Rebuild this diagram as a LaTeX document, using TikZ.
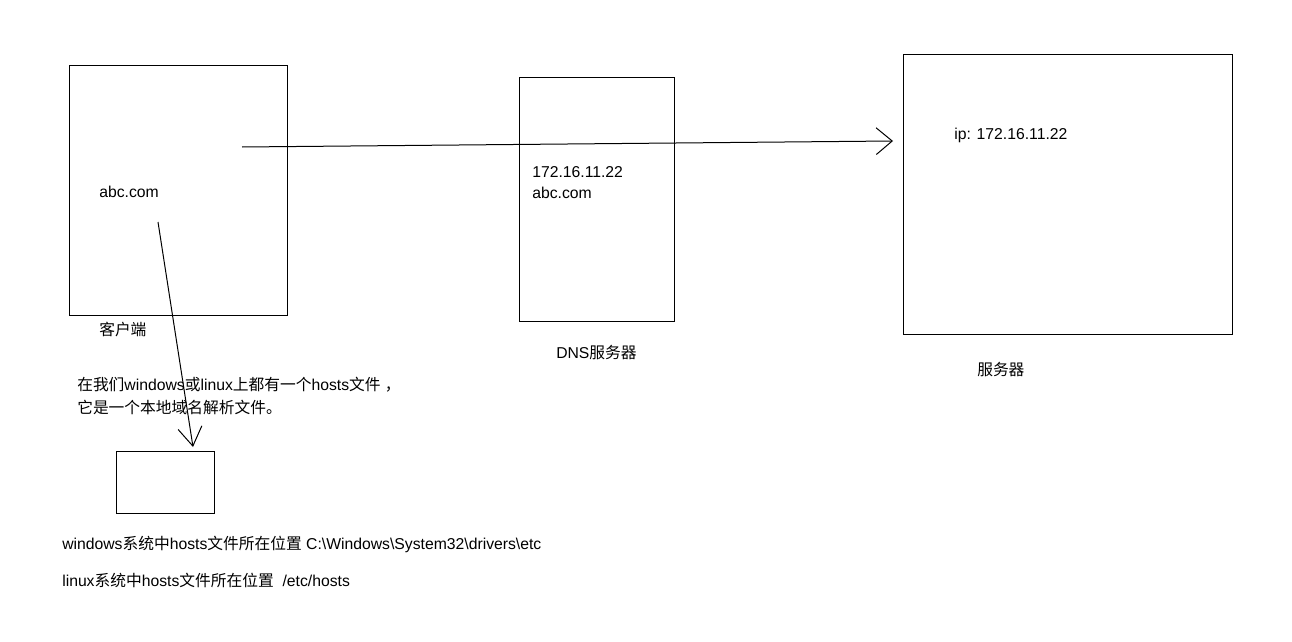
\documentclass[tikz,border=0pt]{standalone}
\usepackage{fontspec}
\setmainfont{Liberation Sans}
\newfontfamily\cjk{Noto Sans CJK SC}
\usetikzlibrary{arrows.meta}
\newcommand{\zh}[1]{{\cjk #1}}

\tikzset{
  box/.style={draw,line width=0.75pt},
  lbl/.style={anchor=west,inner sep=0pt,font=\fontsize{11.8pt}{14pt}\selectfont},
  look/.style={line width=0.75pt,-{Straight Barb[length=12pt,width=20pt,line width=0.75pt]}}
}

\begin{document}
\begin{tikzpicture}[x=0.75pt,y=-0.75pt]
      \useasboundingbox[fill=white] (0,0) rectangle (1292,642);
      % boxes
      \draw[box] (69,66) rectangle (287,315);
      \draw[box] (519,78) rectangle (674,321);
      \draw[box] (903,55) rectangle (1232,334);
      \draw[box] (116,451) rectangle (214,513);
      % texts
      \node[lbl] (clientname) at (99,192) {abc.com};
      \node[lbl] (client) at (99,329) {\zh{客户端}};
      \node[lbl] (dnsip) at (532,172) {172.16.11.22};
      \node[lbl] (dnsname) at (532,193) {abc.com};
      \node[lbl] (dns) at (556,353) {DNS\zh{服务器}};
      \node[lbl] (serverip) at (954,135) {ip: 172.16.11.22};
      \node[lbl] (server) at (977,370) {\zh{服务器}};
      \node[lbl] (note1) at (77,385) {\zh{在我们}windows\zh{或}linux\zh{上都有一个}hosts\zh{文件}\ \zh{，}};
      \node[lbl] (note2) at (77,407) {\zh{它是一个本地域名解析文件。}};
      \node[lbl] (win) at (62,544) {windows\zh{系统中}hosts\zh{文件所在位置} C:\textbackslash Windows\textbackslash System32\textbackslash drivers\textbackslash etc};
      \node[lbl] (lin) at (62,580) {linux\zh{系统中}hosts\zh{文件所在位置}\ \ /etc/hosts};
      % arrows
      \coordinate (askstart) at (242,147);
      \coordinate (askend) at (893,141);
      \coordinate (hoststart) at (158,222);
      \coordinate (hostend) at (193,447);
      \draw[look] (askstart) -- (askend);
      \draw[look,-{Straight Barb[length=14pt,width=18pt,line width=0.75pt]}] (hoststart) -- (hostend);
\end{tikzpicture}
\end{document}
